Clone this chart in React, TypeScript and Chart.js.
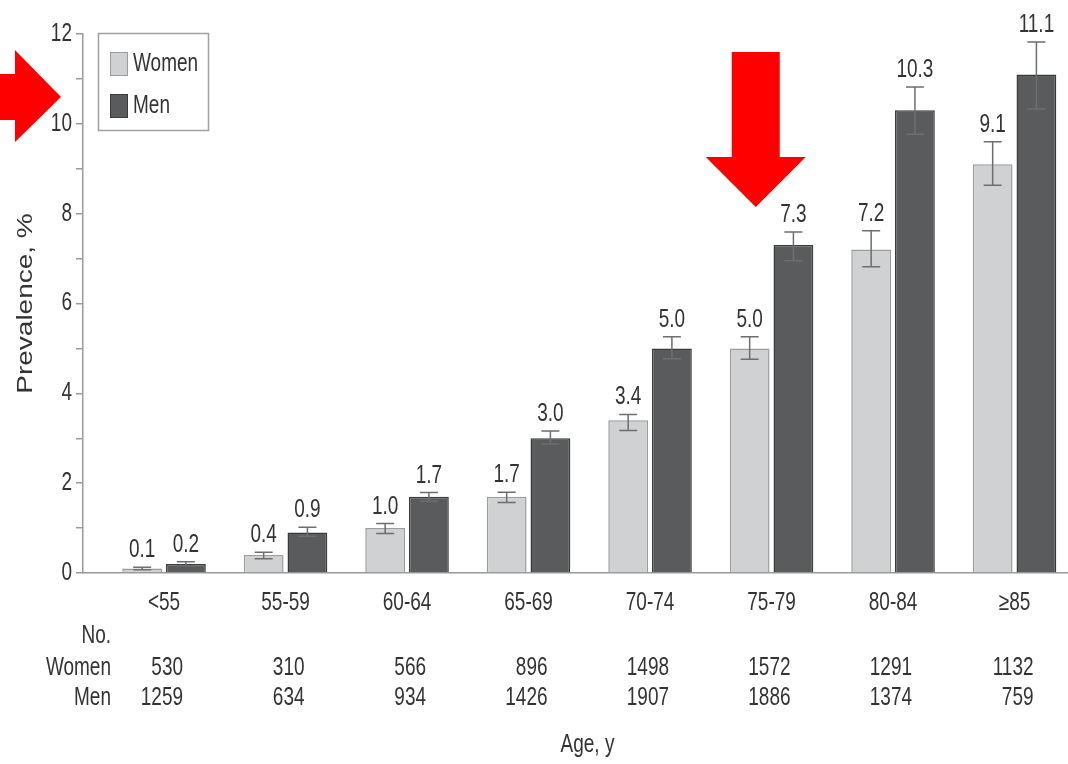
import React, { useEffect, useRef } from 'react';
import { Chart, registerables } from 'chart.js';

Chart.register(...registerables);

const categories = ['<55', '55-59', '60-64', '65-69', '70-74', '75-79', '80-84', '≥85'];
const womenPrev = [0.1, 0.4, 1.0, 1.7, 3.4, 5.0, 7.2, 9.1];
const menPrev = [0.2, 0.9, 1.7, 3.0, 5.0, 7.3, 10.3, 11.1];
const womenLow = [0.07, 0.32, 0.88, 1.57, 3.17, 4.76, 6.82, 8.63];
const womenHigh = [0.13, 0.46, 1.1, 1.8, 3.53, 5.26, 7.62, 9.6];
const menLow = [0.16, 0.82, 1.6, 2.87, 4.77, 6.95, 9.77, 10.33];
const menHigh = [0.25, 1.02, 1.79, 3.16, 5.26, 7.59, 10.82, 11.82];
const womenN = [530, 310, 566, 896, 1498, 1572, 1291, 1132];
const menN = [1259, 634, 934, 1426, 1907, 1886, 1374, 759];
const yTickLabels = [0, 2, 4, 6, 8, 10, 12];
const yMax = 12;

// annotation arrows (in data units)
const rightArrowTipValue = 10.6;
const downArrowXValue = 4.87;
const downArrowTipValue = 8.15;
const downArrowTopValue = 11.6;

const FONT = "'Liberation Sans', Arial, Helvetica, sans-serif";
const TEXT = '#333333';
const WOMEN_FILL = '#d0d1d3';
const WOMEN_BORDER = '#9c9c9c';
const MEN_FILL = '#5a5b5d';
const MEN_BORDER = '#3a3a3c';
const AXIS = '#9a9a9a';
const SX = 0.76; // horizontal compression of the lettering

function drawText(
  ctx: CanvasRenderingContext2D,
  text: string,
  x: number,
  y: number,
  align: CanvasTextAlign,
  baseline: CanvasTextBaseline = 'middle',
  size = 25
) {
  ctx.save();
  ctx.translate(x, y);
  ctx.scale(SX, 1);
  ctx.font = `${size}px ${FONT}`;
  ctx.fillStyle = TEXT;
  ctx.textAlign = align;
  ctx.textBaseline = baseline;
  ctx.fillText(text, 0, 0);
  ctx.restore();
}

export default function App() {
  const ref = useRef<HTMLCanvasElement>(null);

  useEffect(() => {
    document.body.style.margin = '0';
    const canvas = ref.current!;

    const annotate = {
      id: 'annotate',
      afterDatasetsDraw(chart: any) {
        const { ctx, scales } = chart;
        const y = scales.y;
        ctx.save();
        const groups: [number[], number[], number[]][] = [
          [womenLow, womenHigh, womenPrev],
          [menLow, menHigh, menPrev],
        ];
        groups.forEach(([lo, hi, val], d) => {
          const meta = chart.getDatasetMeta(d);
          meta.data.forEach((bar: any, i: number) => {
            const cx = bar.x;
            const yl = y.getPixelForValue(lo[i]);
            const yh = y.getPixelForValue(hi[i]);
            ctx.strokeStyle = '#6e6e6e';
            ctx.lineWidth = 1.5;
            ctx.beginPath();
            ctx.moveTo(cx, yl);
            ctx.lineTo(cx, yh);
            ctx.moveTo(cx - 9, yl);
            ctx.lineTo(cx + 9, yl);
            ctx.moveTo(cx - 9, yh);
            ctx.lineTo(cx + 9, yh);
            ctx.stroke();
            drawText(ctx, val[i].toFixed(1), cx, yh - 10, 'center', 'alphabetic');
          });
        });
        ctx.restore();
      },
      afterDraw(chart: any) {
        const { ctx, chartArea, scales } = chart;
        const x = scales.x;
        const y = scales.y;
        ctx.save();

        // Y tick labels
        yTickLabels.forEach((v) => {
          drawText(ctx, String(v), chartArea.left - 11, y.getPixelForValue(v), 'right');
        });

        // Y title
        ctx.save();
        ctx.translate(26, (chartArea.top + chartArea.bottom) / 2);
        ctx.rotate(-Math.PI / 2);
        ctx.scale(1, 0.8);
        ctx.font = `28px ${FONT}`;
        ctx.fillStyle = TEXT;
        ctx.textAlign = 'center';
        ctx.textBaseline = 'middle';
        ctx.fillText('Prevalence, %', 0, 0);
        ctx.restore();

        // X category labels
        const b = chartArea.bottom;
        categories.forEach((c, i) => {
          drawText(ctx, c, x.getPixelForValue(i), b + 30, 'center');
        });

        // Table of counts
        const rowNo = b + 63;
        const rowW = b + 95;
        const rowM = b + 125;
        const labelX = chartArea.left + 28;
        drawText(ctx, 'No.', labelX, rowNo, 'right');
        drawText(ctx, 'Women', labelX, rowW, 'right');
        drawText(ctx, 'Men', labelX, rowM, 'right');
        categories.forEach((_, i) => {
          const px = x.getPixelForValue(i) + 19;
          drawText(ctx, String(womenN[i]), px, rowW, 'right');
          drawText(ctx, String(menN[i]), px, rowM, 'right');
        });

        // X axis title
        drawText(ctx, 'Age, y', (chartArea.left + chartArea.right) / 2 + 12, b + 172, 'center');

        // Legend
        const lx = chartArea.left + 15;
        const ly = chartArea.top - 1;
        ctx.strokeStyle = '#a0a0a0';
        ctx.lineWidth = 1.5;
        ctx.strokeRect(lx + 0.5, ly + 0.5, 110, 97);
        const items = [
          { label: 'Women', fill: WOMEN_FILL, border: WOMEN_BORDER, yc: ly + 31 },
          { label: 'Men', fill: MEN_FILL, border: MEN_BORDER, yc: ly + 73 },
        ];
        items.forEach((it) => {
          ctx.fillStyle = it.fill;
          ctx.fillRect(lx + 12, it.yc - 12, 18, 24);
          ctx.strokeStyle = it.border;
          ctx.lineWidth = 1;
          ctx.strokeRect(lx + 12.5, it.yc - 11.5, 17, 23);
          drawText(ctx, it.label, lx + 35, it.yc, 'left');
        });

        // Red arrows
        ctx.fillStyle = '#ff0000';
        const ty = y.getPixelForValue(rightArrowTipValue);
        const tx = chartArea.left - 22;
        ctx.beginPath();
        ctx.moveTo(0, ty - 23);
        ctx.lineTo(tx - 46, ty - 23);
        ctx.lineTo(tx - 46, ty - 47);
        ctx.lineTo(tx, ty);
        ctx.lineTo(tx - 46, ty + 45);
        ctx.lineTo(tx - 46, ty + 23);
        ctx.lineTo(0, ty + 23);
        ctx.closePath();
        ctx.fill();

        const dx = x.getPixelForValue(downArrowXValue);
        const dTip = y.getPixelForValue(downArrowTipValue);
        const dTop = y.getPixelForValue(downArrowTopValue);
        ctx.beginPath();
        ctx.moveTo(dx - 24, dTop);
        ctx.lineTo(dx + 24, dTop);
        ctx.lineTo(dx + 24, dTip - 50);
        ctx.lineTo(dx + 50, dTip - 50);
        ctx.lineTo(dx, dTip);
        ctx.lineTo(dx - 50, dTip - 50);
        ctx.lineTo(dx - 24, dTip - 50);
        ctx.closePath();
        ctx.fill();

        ctx.restore();
      },
    };

    const chart = new Chart(canvas, {
      type: 'bar',
      data: {
        datasets: [
          {
            label: 'Women',
            data: womenPrev.map((v, i) => ({ x: i, y: v })),
            backgroundColor: WOMEN_FILL,
            borderColor: WOMEN_BORDER,
            borderWidth: 1.5,
          },
          {
            label: 'Men',
            data: menPrev.map((v, i) => ({ x: i, y: v })),
            backgroundColor: MEN_FILL,
            borderColor: MEN_BORDER,
            borderWidth: 1.5,
          },
        ],
      },
      options: {
        responsive: false,
        animation: false,
        devicePixelRatio: 1,
        categoryPercentage: 0.72,
        barPercentage: 0.91,
        layout: { padding: { top: 34, left: 0, right: 0, bottom: 0 } },
        plugins: {
          legend: { display: false },
          tooltip: { enabled: false },
        },
        scales: {
          x: {
            type: 'linear',
            min: -0.667,
            max: 7.44,
            offset: false,
            afterBuildTicks: (scale: any) => {
              scale.ticks = categories.map((_, i) => ({ value: i }));
            },
            afterFit: (scale: any) => {
              scale.height = 191;
            },
            grid: { display: false, drawTicks: false, offset: false },
            border: { display: true, color: AXIS, width: 1.5 },
            ticks: { display: false },
          },
          y: {
            min: 0,
            max: yMax,
            afterFit: (scale: any) => {
              scale.width = 83;
            },
            grid: { drawOnChartArea: false, drawTicks: true, tickLength: 7, color: AXIS, lineWidth: 1.5 },
            border: { display: true, color: AXIS, width: 1.5 },
            ticks: {
              stepSize: 1,
              padding: 4,
              callback: () => '',
            },
          },
        },
      },
      plugins: [annotate],
    });

    return () => chart.destroy();
  }, []);

  return (
    <canvas
      ref={ref}
      width={1068}
      height={764}
      style={{ display: 'block', width: 1068, height: 764 }}
    />
  );
}
